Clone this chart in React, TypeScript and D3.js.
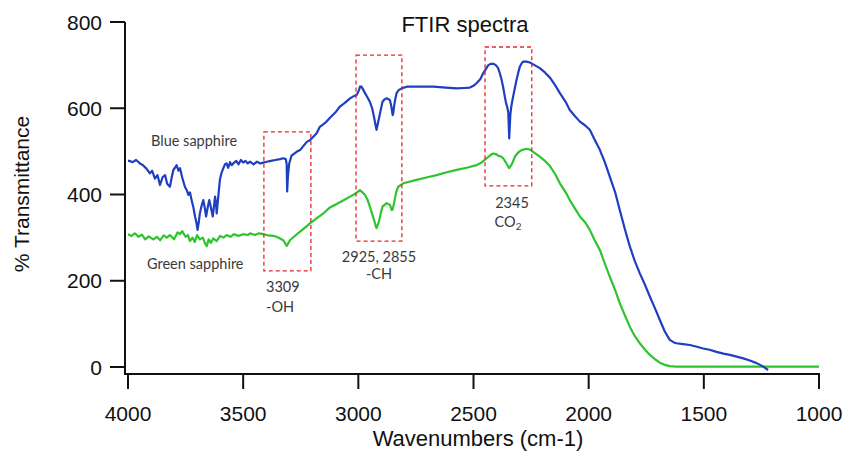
import React from "react";
import * as d3 from "d3";

const xTicks = [4000, 3500, 3000, 2500, 2000, 1500, 1000];
const yTicks = [0, 200, 400, 600, 800];

// [wavenumber, %T]
const blueSapphire: [number, number][] = [
  [4000,478],[3994,478],[3980,475],[3965,480],[3948,472],[3935,468],[3920,460],[3905,449],[3895,455],[3883,437],[3872,445],[3861,422],[3850,440],[3839,445],[3830,425],[3818,418],[3810,440],[3803,457],[3796,462],[3789,468],[3781,455],[3774,461],[3765,440],[3753,418],[3745,410],[3738,399],[3731,405],[3724,387],[3716,370],[3709,349],[3703,335],[3698,318],[3693,335],[3688,356],[3680,375],[3673,387],[3667,370],[3661,349],[3654,370],[3647,387],[3640,370],[3632,349],[3627,372],[3622,395],[3618,380],[3615,356],[3608,395],[3601,434],[3594,450],[3586,461],[3579,470],[3572,472],[3565,462],[3557,475],[3550,468],[3543,472],[3530,478],[3520,470],[3510,480],[3500,474],[3490,478],[3480,472],[3470,476],[3455,470],[3440,476],[3425,472],[3413,474],[3398,476],[3380,478],[3360,480],[3340,482],[3326,484],[3315,482],[3311,470],[3309,407],[3306,440],[3300,472],[3290,490],[3268,499],[3253,503],[3224,522],[3210,526],[3181,542],[3167,557],[3140,568],[3123,578],[3100,590],[3080,604],[3060,612],[3036,623],[3020,628],[3007,631],[2997,642],[2993,650],[2986,650],[2978,642],[2971,635],[2960,625],[2950,615],[2940,600],[2932,580],[2925,560],[2921,550],[2915,565],[2909,580],[2902,598],[2895,615],[2886,621],[2877,623],[2863,619],[2857,605],[2851,584],[2848,590],[2845,604],[2840,620],[2834,635],[2825,642],[2812,646],[2790,650],[2776,650],[2700,650],[2675,650],[2620,648],[2573,646],[2540,647],[2516,648],[2500,652],[2487,658],[2470,668],[2458,681],[2445,692],[2436,700],[2424,703],[2414,703],[2403,700],[2393,693],[2385,680],[2378,666],[2371,648],[2364,627],[2358,610],[2354,604],[2349,590],[2345,530],[2340,585],[2336,604],[2328,627],[2320,648],[2313,666],[2306,682],[2299,696],[2290,705],[2284,708],[2270,708],[2255,706],[2235,700],[2212,693],[2190,683],[2168,671],[2145,653],[2125,635],[2100,615],[2082,596],[2060,582],[2038,569],[2015,560],[1995,550],[1975,528],[1951,503],[1930,475],[1908,441],[1885,405],[1865,364],[1843,320],[1821,279],[1800,246],[1778,217],[1755,190],[1734,163],[1712,136],[1691,109],[1670,83],[1648,63],[1630,57],[1619,55],[1590,53],[1561,51],[1530,47],[1503,43],[1475,40],[1445,35],[1415,31],[1387,28],[1358,24],[1329,20],[1300,15],[1271,9],[1245,2],[1221,-7]
];

const greenSapphire: [number, number][] = [
  [4000,308],[3985,304],[3970,310],[3955,302],[3940,307],[3925,296],[3910,303],[3890,296],[3875,302],[3860,294],[3845,305],[3832,300],[3818,306],[3800,296],[3785,312],[3774,308],[3765,315],[3750,302],[3740,306],[3731,292],[3720,300],[3710,290],[3700,306],[3688,296],[3675,300],[3665,286],[3658,280],[3650,296],[3640,288],[3630,298],[3615,292],[3600,304],[3585,300],[3572,306],[3555,302],[3540,308],[3520,304],[3500,308],[3480,306],[3470,310],[3450,306],[3430,310],[3413,308],[3398,306],[3370,304],[3355,302],[3340,298],[3326,294],[3311,281],[3305,286],[3297,294],[3280,302],[3253,314],[3230,324],[3210,333],[3180,345],[3152,356],[3123,370],[3094,378],[3060,388],[3036,395],[3010,403],[2993,410],[2982,405],[2971,399],[2960,388],[2950,372],[2940,355],[2932,341],[2925,328],[2921,322],[2915,330],[2909,341],[2902,358],[2895,372],[2877,380],[2863,376],[2855,364],[2851,365],[2845,380],[2836,405],[2827,418],[2805,426],[2747,434],[2700,440],[2660,445],[2620,451],[2573,457],[2530,462],[2487,468],[2465,474],[2443,484],[2425,492],[2414,495],[2400,493],[2393,490],[2380,488],[2371,484],[2357,472],[2345,461],[2333,471],[2320,488],[2305,498],[2291,503],[2270,506],[2255,504],[2241,499],[2212,488],[2190,478],[2168,466],[2145,447],[2125,426],[2100,405],[2082,387],[2060,368],[2038,349],[2015,335],[1995,318],[1975,295],[1951,271],[1930,240],[1908,209],[1885,178],[1865,148],[1843,120],[1821,93],[1800,72],[1778,55],[1755,40],[1734,28],[1712,18],[1691,10],[1670,5],[1648,2],[1620,1],[1590,1],[1000,1]
];

// boxes: [wnLeft, wnRight, top, bottom]
const boxes: [number, number, number, number][] = [
  [3410, 3206, 545, 223],
  [3010, 2811, 723, 292],
  [2450, 2247, 742, 420],
];

export default function App() {
  const W = 845, H = 452;
  const x = d3.scaleLinear().domain([4000, 1000]).range([128, 819]);
  const y = d3.scaleLinear().domain([0, 800]).range([367, 22]);
  const line = d3.line<[number, number]>().x(d => x(d[0])).y(d => y(d[1]));
  const axisFont = "'Liberation Sans', Arial, sans-serif";
  const noteFont = "Lato, 'Open Sans', sans-serif";
  const axisLeft = 125, axisBottom = 374;
  return (
    <svg width={W} height={H} style={{ position: "absolute", left: 0, top: 0, background: "#fff" }}>
      <rect width={W} height={H} fill="#fff" />
      <path d={line(greenSapphire) || ""} fill="none" stroke="#2ec42e" strokeWidth={2.2} strokeLinejoin="round" />
      <path d={line(blueSapphire) || ""} fill="none" stroke="#1f3ec0" strokeWidth={2.2} strokeLinejoin="round" />
      {boxes.map((b, i) => (
        <rect key={i} x={x(b[0])} y={y(b[2])} width={x(b[1]) - x(b[0])} height={y(b[3]) - y(b[2])}
          fill="none" stroke="#e8272c" strokeWidth={1.3} strokeDasharray="4,3" />
      ))}
      <line x1={axisLeft} x2={axisLeft} y1={y(800)} y2={axisBottom + 1} stroke="#111" strokeWidth={2} />
      <line x1={axisLeft - 1} x2={x(1000) + 1} y1={axisBottom} y2={axisBottom} stroke="#111" strokeWidth={2} />
      {yTicks.map(t => (
        <g key={t}>
          <line x1={axisLeft - 15} x2={axisLeft} y1={y(t)} y2={y(t)} stroke="#111" strokeWidth={2} />
          <text x={102} y={y(t)} dy="0.36em" textAnchor="end" fontFamily={axisFont} fontSize={21} fill="#111">{t}</text>
        </g>
      ))}
      {xTicks.map(t => (
        <g key={t}>
          <line x1={x(t)} x2={x(t)} y1={axisBottom} y2={axisBottom + 15} stroke="#111" strokeWidth={2} />
          <text x={x(t)} y={421} textAnchor="middle" fontFamily={axisFont} fontSize={21} fill="#111">{t}</text>
        </g>
      ))}
      <text x={465} y={32} textAnchor="middle" fontFamily={axisFont} fontSize={22} fill="#111">FTIR spectra</text>
      <text x={478} y={446} textAnchor="middle" fontFamily={axisFont} fontSize={22} fill="#111">Wavenumbers (cm-1)</text>
      <text transform="translate(29,194) rotate(-90)" textAnchor="middle" fontFamily={axisFont} fontSize={21} fill="#111">% Transmittance</text>
      <g fontFamily={noteFont} fontSize={14.5} fill="#3a3a3a">
        <text x={151} y={146}>Blue sapphire</text>
        <text x={147} y={269}>Green sapphire</text>
        <text x={266} y={292}>3309</text>
        <text x={266} y={312}>-OH</text>
        <text x={379} y={262} textAnchor="middle">2925, 2855</text>
        <text x={379} y={279} textAnchor="middle">-CH</text>
        <text x={512} y={208} textAnchor="middle">2345</text>
        <text x={508} y={227} textAnchor="middle">CO<tspan fontSize={10} dy={3}>2</tspan></text>
      </g>
    </svg>
  );
}
